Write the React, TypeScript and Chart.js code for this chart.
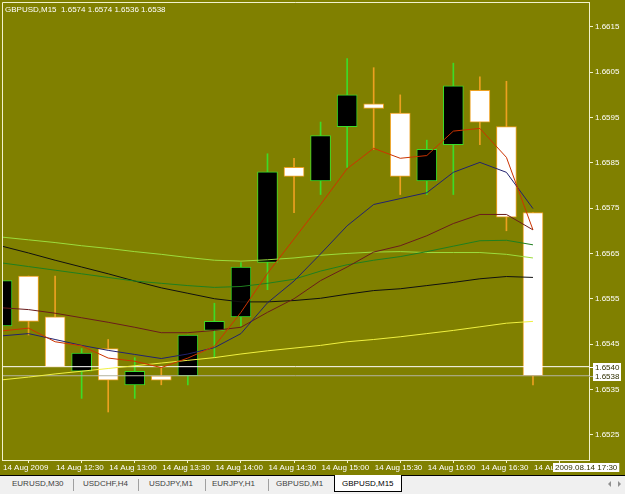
import React, { useEffect, useRef } from 'react';
import { Chart, registerables } from 'chart.js';

Chart.register(...registerables);

// ---------------- data ----------------
const CHART_TITLE = 'GBPUSD,M15  1.6574 1.6574 1.6536 1.6538';

const BAR_INDEX = [0, 1, 2, 3, 4, 5, 6, 7, 8, 9, 10, 11, 12, 13, 14, 15, 16, 17, 18, 19, 20];
const OPEN = [1.6549, 1.6560, 1.6551, 1.6539, 1.6544, 1.6536, 1.6538, 1.6538, 1.6548, 1.6551, 1.6563, 1.6584, 1.6581, 1.6593, 1.6598, 1.6596, 1.6581, 1.6589, 1.6601, 1.6593, 1.6574];
const HIGH = [1.6560, 1.6560, 1.6560, 1.6544, 1.6546, 1.6542, 1.6540, 1.6547, 1.6554, 1.6563, 1.6587, 1.6586, 1.6594, 1.6608, 1.6606, 1.6600, 1.6590, 1.6607, 1.6604, 1.6603, 1.6574];
const LOW = [1.6548, 1.6547, 1.6540, 1.6533, 1.6530, 1.6533, 1.6536, 1.6536, 1.6542, 1.6549, 1.6557, 1.6574, 1.6578, 1.6584, 1.6588, 1.6578, 1.6578, 1.6578, 1.6589, 1.6570, 1.6536];
const CLOSE = [1.6559, 1.6550, 1.6540, 1.6543, 1.6537, 1.6539, 1.6537, 1.6547, 1.6550, 1.6562, 1.6583, 1.6582, 1.6591, 1.6600, 1.6597, 1.6582, 1.6588, 1.6602, 1.6594, 1.6573, 1.6538];

const MA_RED = [1.65479, 1.65485, 1.65455, 1.65446, 1.65419, 1.65412, 1.65398, 1.65419, 1.65445, 1.6552, 1.65606, 1.65682, 1.65758, 1.65837, 1.65882, 1.6586, 1.65866, 1.6592, 1.65926, 1.65862, 1.65702];
const MA_NAVY = [1.65468, 1.65473, 1.6546, 1.65447, 1.65436, 1.65427, 1.65418, 1.65428, 1.65442, 1.65473, 1.65541, 1.65589, 1.65649, 1.65711, 1.65758, 1.65771, 1.65784, 1.65829, 1.65851, 1.65829, 1.65749];
const MA_BROWN = [1.6553, 1.65526, 1.65518, 1.65508, 1.65498, 1.65487, 1.65475, 1.65475, 1.6548, 1.65487, 1.6552, 1.6555, 1.6559, 1.6562, 1.65653, 1.65667, 1.65689, 1.65716, 1.65736, 1.65736, 1.65702];
const MA_DARKGREEN = [1.65629, 1.65621, 1.65613, 1.65605, 1.65597, 1.65589, 1.65584, 1.65579, 1.65575, 1.65577, 1.65584, 1.65593, 1.65611, 1.65625, 1.65635, 1.65643, 1.65654, 1.65666, 1.65678, 1.65679, 1.65669];
const MA_LIGHTGREEN = [1.65686, 1.6568, 1.65674, 1.65667, 1.65661, 1.65654, 1.65648, 1.65641, 1.65635, 1.65633, 1.65636, 1.6564, 1.65646, 1.6565, 1.65653, 1.65654, 1.65652, 1.65652, 1.65652, 1.65648, 1.6564];
const MA_BLACK = [1.65666, 1.65651, 1.65635, 1.6562, 1.65605, 1.65589, 1.65574, 1.65562, 1.6555, 1.65543, 1.65543, 1.65546, 1.65551, 1.6556, 1.65568, 1.65572, 1.65579, 1.65586, 1.65594, 1.65599, 1.65597];
const MA_YELLOW = [1.65371, 1.65377, 1.65384, 1.6539, 1.65396, 1.65402, 1.65408, 1.65414, 1.6542, 1.65428, 1.65435, 1.65441, 1.65447, 1.65455, 1.6546, 1.65466, 1.65473, 1.6548, 1.65488, 1.65496, 1.655];

const ASK_LEVEL = 1.6540;
const BID_LEVEL = 1.6538;

const PRICE_TICKS = [1.6525, 1.6535, 1.6545, 1.6555, 1.6565, 1.6575, 1.6585, 1.6595, 1.6605, 1.6615];
const TIME_TICK_BARS = [0, 2, 4, 6, 8, 10, 12, 14, 16, 18, 20];
const TIME_TICK_LABELS = ['14 Aug 2009', '14 Aug 12:30', '14 Aug 13:00', '14 Aug 13:30', '14 Aug 14:00', '14 Aug 14:30', '14 Aug 15:00', '14 Aug 15:30', '14 Aug 16:00', '14 Aug 16:30', '14 Aug 17:00'];
const CURSOR_TIME_LABEL = '2009.08.14 17:30';

const TABS = ['EURUSD,M30', 'USDCHF,H4', 'USDJPY,M1', 'EURJPY,H1', 'GBPUSD,M1', 'GBPUSD,M15'];
const ACTIVE_TAB = 'GBPUSD,M15';

// visible window of the chart (axis limits)
const VIEW_FIRST_BAR = 0;
const VIEW_LAST_BAR = 22.11;
const PRICE_MIN = 1.65194;
const PRICE_MAX = 1.66205;

// ---------------- styles ----------------
const BG = '#808000';
const FRAME = '#f2f2cc';
const TEXT = '#ffffff';
const BULL_LINE = '#3cdc28';
const BEAR_LINE = '#eca020';
const FONT_FAMILY = '"Liberation Sans", Arial, sans-serif';
const FONT = { family: FONT_FAMILY, size: 8 };

const TAB_TEXT_X = [12, 83, 149, 212, 276, 342];
const TAB_SEP_X = [73, 138, 205, 268];

const overlayPlugin = {
  id: 'mtOverlay',
  afterDraw(chart: any) {
    const { ctx, chartArea: a, scales } = chart;
    ctx.save();
    // top and left frame lines
    ctx.strokeStyle = FRAME;
    ctx.lineWidth = 1;
    ctx.beginPath();
    ctx.moveTo(a.left + 0.5, a.bottom);
    ctx.lineTo(a.left + 0.5, a.top + 0.5);
    ctx.lineTo(a.right, a.top + 0.5);
    ctx.stroke();

    ctx.font = `8px ${FONT_FAMILY}`;
    ctx.textBaseline = 'middle';
    ctx.textAlign = 'left';
    ctx.fillStyle = TEXT;
    ctx.fillText(CHART_TITLE, a.left + 3, a.top + 8);

    // price tags on the price axis
    const tags: [number, string][] = [[ASK_LEVEL, '#ffffff'], [BID_LEVEL, '#b4b4a0']];
    tags.forEach(([lv, col]) => {
      const y = Math.round(scales.y.getPixelForValue(lv));
      ctx.strokeStyle = col;
      ctx.beginPath();
      ctx.moveTo(a.right, y + 0.5);
      ctx.lineTo(a.right + 4, y + 0.5);
      ctx.stroke();
      ctx.fillStyle = '#ffffff';
      ctx.fillRect(a.right + 4, y - 4, 28, 9);
      ctx.fillStyle = '#303000';
      ctx.fillText(lv.toFixed(4), a.right + 6, y + 0.5);
    });

    // time tag at the bottom right
    const tw = ctx.measureText(CURSOR_TIME_LABEL).width;
    ctx.fillStyle = '#ffffff';
    ctx.fillRect(553, a.bottom + 3, tw + 4, 9);
    ctx.fillStyle = '#303000';
    ctx.fillText(CURSOR_TIME_LABEL, 555, a.bottom + 7.5);
    ctx.restore();
  },
};

function lineDs(values: number[], color: string, order: number) {
  return {
    type: 'line' as const,
    data: BAR_INDEX.map((i) => ({ x: i, y: values[i] })),
    borderColor: color,
    borderWidth: 1,
    pointRadius: 0,
    tension: 0,
    fill: false,
    order,
  };
}

export default function App() {
  const ref = useRef<HTMLCanvasElement>(null);

  useEffect(() => {
    const canvas = ref.current;
    if (!canvas) return;
    const bull = BAR_INDEX.map((i) => CLOSE[i] >= OPEN[i]);
    const chart = new Chart(canvas, {
      type: 'line',
      data: {
        datasets: [
          {
            type: 'bar',
            data: BAR_INDEX.map((i) => ({ x: i, y: [LOW[i], HIGH[i]] })),
            backgroundColor: BAR_INDEX.map((i) => (bull[i] ? BULL_LINE : BEAR_LINE)),
            grouped: false,
            barPercentage: 1,
            categoryPercentage: 1,
            barThickness: 1,
            maxBarThickness: 1,
            clip: 0,
            order: 20,
          } as any,
          {
            type: 'bar',
            data: BAR_INDEX.map((i) => ({ x: i, y: [OPEN[i], CLOSE[i]] })),
            backgroundColor: BAR_INDEX.map((i) => (bull[i] ? '#000000' : '#ffffff')),
            borderColor: BAR_INDEX.map((i) => (bull[i] ? BULL_LINE : BEAR_LINE)),
            borderWidth: 1,
            borderSkipped: false,
            grouped: false,
            barPercentage: 1,
            categoryPercentage: 1,
            barThickness: 20,
            maxBarThickness: 20,
            clip: 0,
            order: 19,
          } as any,
          {
            type: 'line',
            data: [{ x: VIEW_FIRST_BAR, y: BID_LEVEL }, { x: VIEW_LAST_BAR, y: BID_LEVEL }],
            borderColor: '#b4b4a0',
            borderWidth: 1,
            pointRadius: 0,
            order: 18,
          } as any,
          {
            type: 'line',
            data: [{ x: VIEW_FIRST_BAR, y: ASK_LEVEL }, { x: VIEW_LAST_BAR, y: ASK_LEVEL }],
            borderColor: '#ffffff',
            borderWidth: 1,
            pointRadius: 0,
            order: 17,
          } as any,
          lineDs(MA_YELLOW, '#f0f040', 10),
          lineDs(MA_BLACK, '#101010', 9),
          lineDs(MA_LIGHTGREEN, '#9cdc3c', 8),
          lineDs(MA_DARKGREEN, '#1f7f1f', 7),
          lineDs(MA_BROWN, '#6a1c1c', 6),
          lineDs(MA_NAVY, '#22226e', 5),
          lineDs(MA_RED, '#cc3300', 4),
        ] as any,
      },
      options: {
        animation: false,
        responsive: false,
        devicePixelRatio: 1,
        events: [],
        layout: { padding: { left: 2, top: 2, right: 0, bottom: 0 } },
        plugins: { legend: { display: false }, tooltip: { enabled: false }, title: { display: false } },
        scales: {
          x: {
            type: 'linear',
            min: VIEW_FIRST_BAR,
            max: VIEW_LAST_BAR,
            offset: false,
            grid: { display: true, drawOnChartArea: false, drawTicks: true, tickLength: 3, color: FRAME, lineWidth: 1 },
            border: { display: true, color: FRAME, width: 1 },
            ticks: {
              color: TEXT,
              font: FONT,
              align: 'start',
              labelOffset: 1,
              padding: 0,
              maxRotation: 0,
              minRotation: 0,
              autoSkip: false,
              callback: (v: any) => {
                const k = TIME_TICK_BARS.indexOf(Number(v));
                return k >= 0 ? TIME_TICK_LABELS[k] : '';
              },
            },
            afterBuildTicks: (axis: any) => {
              axis.ticks = TIME_TICK_BARS.map((v) => ({ value: v }));
            },
            afterFit: (axis: any) => {
              axis.height = 15;
              axis.paddingLeft = 0;
              axis.paddingRight = 0;
            },
          },
          y: {
            type: 'linear',
            position: 'right',
            min: PRICE_MIN,
            max: PRICE_MAX,
            grid: { display: true, drawOnChartArea: false, drawTicks: true, tickLength: 4, color: FRAME, lineWidth: 1 },
            border: { display: true, color: FRAME, width: 1 },
            ticks: {
              color: TEXT,
              font: FONT,
              padding: 2,
              autoSkip: false,
              callback: (v: any) => Number(v).toFixed(4),
            },
            afterBuildTicks: (axis: any) => {
              axis.ticks = PRICE_TICKS.map((v) => ({ value: v }));
            },
            afterFit: (axis: any) => {
              axis.width = 36;
              axis.paddingTop = 0;
              axis.paddingBottom = 0;
            },
          },
        },
      } as any,
      plugins: [overlayPlugin],
    });
    return () => chart.destroy();
  }, []);

  return (
    <div style={{ position: 'fixed', left: 0, top: 0, width: 625, height: 494, overflow: 'hidden', background: BG }}>
      <canvas ref={ref} width={625} height={475} style={{ position: 'absolute', left: 0, top: 0, width: 625, height: 475, background: BG }} />
      <div
        style={{
          position: 'absolute', left: 0, top: 475, width: 625, height: 19, boxSizing: 'border-box',
          borderTop: '1px solid #000000', background: '#f0f0f0', fontFamily: FONT_FAMILY, fontSize: 8,
        }}
      >
        <div style={{ position: 'absolute', left: 334, top: -1, width: 68, height: 17, boxSizing: 'border-box', background: '#ffffff', border: '1px solid #000000', borderTop: 'none' }} />
        {TAB_SEP_X.map((x) => (
          <div key={x} style={{ position: 'absolute', left: x, top: 3, width: 1, height: 12, background: '#a0a0a0' }} />
        ))}
        {TABS.map((t, k) => (
          <span
            key={t}
            style={{ position: 'absolute', left: TAB_TEXT_X[k], top: 3, lineHeight: '10px', whiteSpace: 'nowrap', color: t === ACTIVE_TAB ? '#000000' : '#404040' }}
          >
            {t}
          </span>
        ))}
        <div style={{ position: 'absolute', left: 608, top: 5, width: 0, height: 0, borderTop: '3px solid transparent', borderBottom: '3px solid transparent', borderRight: '3px solid #909090' }} />
        <div style={{ position: 'absolute', left: 618, top: 5, width: 0, height: 0, borderTop: '3px solid transparent', borderBottom: '3px solid transparent', borderLeft: '3px solid #909090' }} />
      </div>
    </div>
  );
}
